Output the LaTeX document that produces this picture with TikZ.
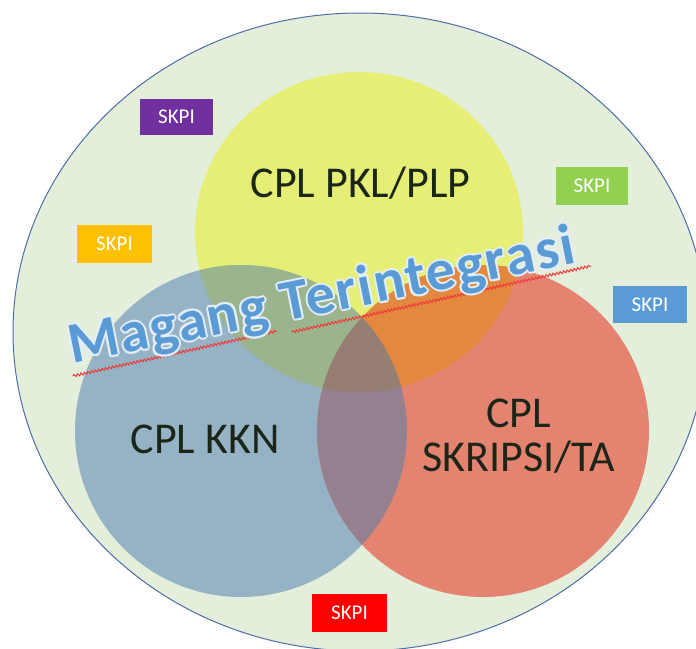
\documentclass[tikz,border=0pt]{standalone}
\usepackage{fontspec}
\setmainfont{Carlito}
\newfontfamily\magfont[LetterSpace=3]{Carlito}
\usetikzlibrary{decorations.pathmorphing,calc}
\definecolor{bg}{HTML}{E3EEDB}
\definecolor{rim}{HTML}{4F6DA6}
\definecolor{yel}{HTML}{E6EF75}
\definecolor{blu}{HTML}{95B3C5}
\definecolor{redc}{HTML}{E4836F}
\definecolor{yb}{HTML}{9AB48D}
\definecolor{yr}{HTML}{E3883F}
\definecolor{brc}{HTML}{94808F}
\definecolor{ybr}{HTML}{967F72}
\definecolor{lbl}{HTML}{1C2618}
\definecolor{mag}{HTML}{5B9BD5}
\definecolor{magglow}{HTML}{E4EEF8}
\definecolor{spell}{HTML}{F03A3A}
\definecolor{skpurple}{HTML}{7030A0}
\definecolor{skgreen}{HTML}{92D050}
\definecolor{skblue}{HTML}{5B9BD5}
\definecolor{skorange}{HTML}{FFC000}
\definecolor{skred}{HTML}{FF0000}
\tikzset{
  skpibox/.style={draw=none, text=white, inner sep=0pt, font=\fontsize{21}{24}\selectfont},
  cpllabel/.style={text=lbl, inner sep=0pt, font=\fontsize{44}{50}\selectfont},
  magtext/.style={inner sep=0pt, anchor=base west, rotate=11.3, font=\magfont\fontsize{58}{64}\selectfont\bfseries},
  spellline/.style={draw=spell, line width=1pt, decorate, decoration={snake, amplitude=1.2pt, segment length=3.6pt}}
}
\newcommand{\yelpath}{(359,232) ellipse [x radius=164pt, y radius=160pt]}
\newcommand{\blupath}{(241,431) circle [radius=166pt]}
\newcommand{\redpath}{(483,431) circle [radius=166pt]}
\begin{document}
\begin{tikzpicture}[x=1pt,y=-1pt]
\useasboundingbox (0,0) rectangle (696,648);
\clip (0,0) rectangle (696,648);
% outer ellipse
\fill[bg] (360,332) ellipse [x radius=347pt, y radius=319pt];
\draw[rim, line width=1pt] (360,332) ellipse [x radius=347pt, y radius=319pt];
% circles
\fill[yel] \yelpath;
\fill[blu] \blupath;
\fill[redc] \redpath;
% overlaps
\begin{scope}
  \clip \yelpath;
  \fill[yb] \blupath;
  \fill[yr] \redpath;
\end{scope}
\begin{scope}
  \clip \blupath;
  \fill[brc] \redpath;
  \clip \redpath;
  \fill[ybr] \yelpath;
\end{scope}
% SKPI boxes
\node[skpibox, fill=skpurple, minimum width=73pt, minimum height=36pt] (s1) at (176.5,117) {SKPI};
\node[skpibox, fill=skgreen, minimum width=72pt, minimum height=38pt] (s2) at (592,186) {SKPI};
\node[skpibox, fill=skblue, minimum width=74pt, minimum height=37pt] (s3) at (650,304.5) {SKPI};
\node[skpibox, fill=skorange, minimum width=75pt, minimum height=38pt] (s4) at (114.5,244) {SKPI};
\node[skpibox, fill=skred, minimum width=75pt, minimum height=38pt] (s5) at (349.5,613) {SKPI};
% labels
\node[cpllabel, anchor=base] (pkl) at (360.5,197) {CPL PKL/PLP};
\node[cpllabel, anchor=base] (kkn) at (205,453) {CPL KKN};
\node[cpllabel, anchor=base] (cpl) at (518.5,427) {CPL};
\node[cpllabel, anchor=base] (skr) at (518.5,471) {SKRIPSI/TA};
% spell-check underline
\coordinate (u1) at (73,376);
\coordinate (u2) at (277,331);
\coordinate (u3) at (292,332);
\coordinate (u4) at (591,266);
\draw[spellline] (u1) -- (u2);
\draw[spellline] (u3) -- (u4);
% Magang Terintegrasi with glow
\coordinate (mbase) at (72,364);
\foreach \a in {0,45,...,315} {
  \node[magtext, text=magglow] (glow\a) at ($(mbase)+(\a:2pt)$) {Magang Terintegrasi};
}
\node[magtext, text=mag] (magang) at (mbase) {Magang Terintegrasi};
\end{tikzpicture}
\end{document}
